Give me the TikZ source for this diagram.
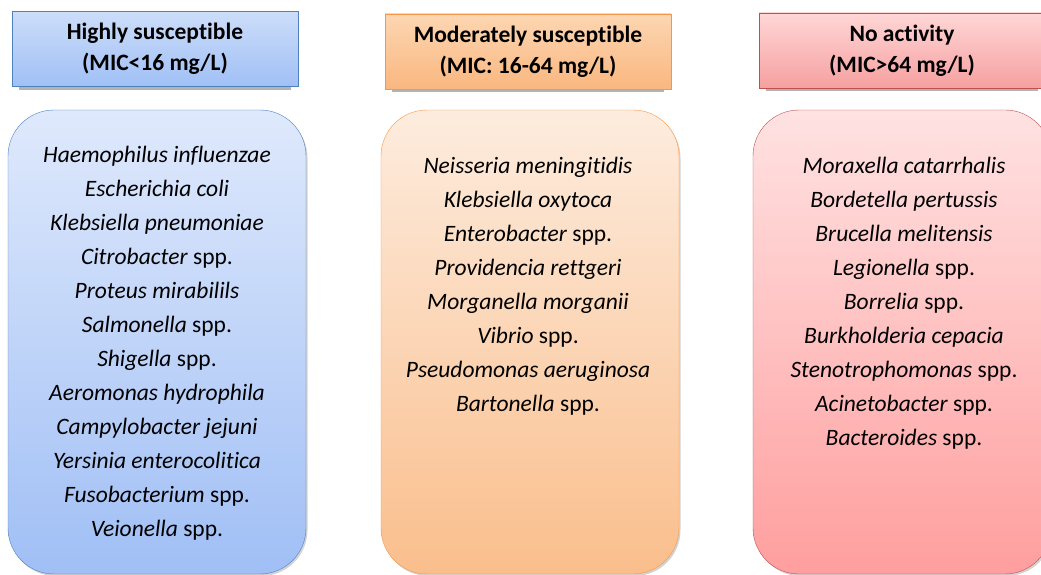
\documentclass[tikz,border=0pt]{standalone}
\usepackage{fontspec}
\setmainfont{Carlito}[Ligatures=NoCommon]
\usetikzlibrary{shadows}

\definecolor{blueline}{RGB}{79,129,189}
\definecolor{orangeline}{RGB}{247,150,70}
\definecolor{redline}{RGB}{192,80,77}

\begin{document}
\begin{tikzpicture}[x=1pt, y=-1pt,
  header/.style={draw, rectangle, minimum width=286pt, minimum height=75pt, align=center,
    font=\fontsize{23.5}{31}\selectfont\bfseries,
    drop shadow={shadow xshift=0pt, shadow yshift=-5.5pt, shadow scale=0.95, opacity=0.6}},
  listbox/.style={draw, rectangle, rounded corners=46pt, minimum width=298pt, minimum height=464pt,
    drop shadow={shadow xshift=1.5pt, shadow yshift=-2pt, opacity=0.35}},
  species/.style={anchor=north, align=center, inner sep=0pt, font=\fontsize{23.5}{34}\selectfont}
]
\useasboundingbox (0,0) rectangle (1041,575);
\clip (0,0) rectangle (1041,575);

% headers
\node[header, blueline, text=black, top color={rgb,255:red,204;green,221;blue,249}, bottom color={rgb,255:red,160;green,192;blue,246}]
  (high) at (155,49) {Highly susceptible\\(MIC<16 mg/L)};
\node[header, orangeline, text=black, top color={rgb,255:red,252;green,214;blue,178}, bottom color={rgb,255:red,250;green,183;blue,128}]
  (mod) at (528,51.5) {Moderately susceptible\\(MIC: 16-64 mg/L)};
\node[header, redline, text=black, top color={rgb,255:red,255;green,214;blue,214}, bottom color={rgb,255:red,246;green,160;blue,160}]
  (none) at (902,50.5) {No activity\\(MIC>64 mg/L)};

% lists
\node[listbox, blueline, top color={rgb,255:red,223;green,233;blue,252}, bottom color={rgb,255:red,160;green,191;blue,245}]
  (highbox) at (157,342) {};
\node[listbox, orangeline, top color={rgb,255:red,253;green,236;blue,222}, bottom color={rgb,255:red,250;green,190;blue,140}]
  (modbox) at (530,342) {};
\node[listbox, redline, top color={rgb,255:red,255;green,226;blue,226}, bottom color={rgb,255:red,255;green,158;blue,158}]
  (nonebox) at (902,342) {};

\node[species] (highlist) at (157,145.5) {%
  \textit{Haemophilus influenzae}\\ \textit{Escherichia coli}\\ \textit{Klebsiella pneumoniae}\\
  \textit{Citrobacter} spp.\\ \textit{Proteus mirabilils}\\ \textit{Salmonella} spp.\\
  \textit{Shigella} spp.\\ \textit{Aeromonas hydrophila}\\ \textit{Campylobacter jejuni}\\
  \textit{Yersinia enterocolitica}\\ \textit{Fusobacterium} spp.\\ \textit{Veionella} spp.};
\node[species] (modlist) at (528,156.5) {%
  \textit{Neisseria meningitidis}\\ \textit{Klebsiella oxytoca}\\ \textit{Enterobacter} spp.\\
  \textit{Providencia rettgeri}\\ \textit{Morganella morganii}\\ \textit{Vibrio} spp.\\
  \textit{Pseudomonas aeruginosa}\\ \textit{Bartonella} spp.};
\node[species] (nonelist) at (904,156.5) {%
  \textit{Moraxella catarrhalis}\\ \textit{Bordetella pertussis}\\ \textit{Brucella melitensis}\\
  \textit{Legionella} spp.\\ \textit{Borrelia} spp.\\ \textit{Burkholderia cepacia}\\
  \textit{Stenotrophomonas} spp.\\ \textit{Acinetobacter} spp.\\ \textit{Bacteroides} spp.};

\end{tikzpicture}
\end{document}
